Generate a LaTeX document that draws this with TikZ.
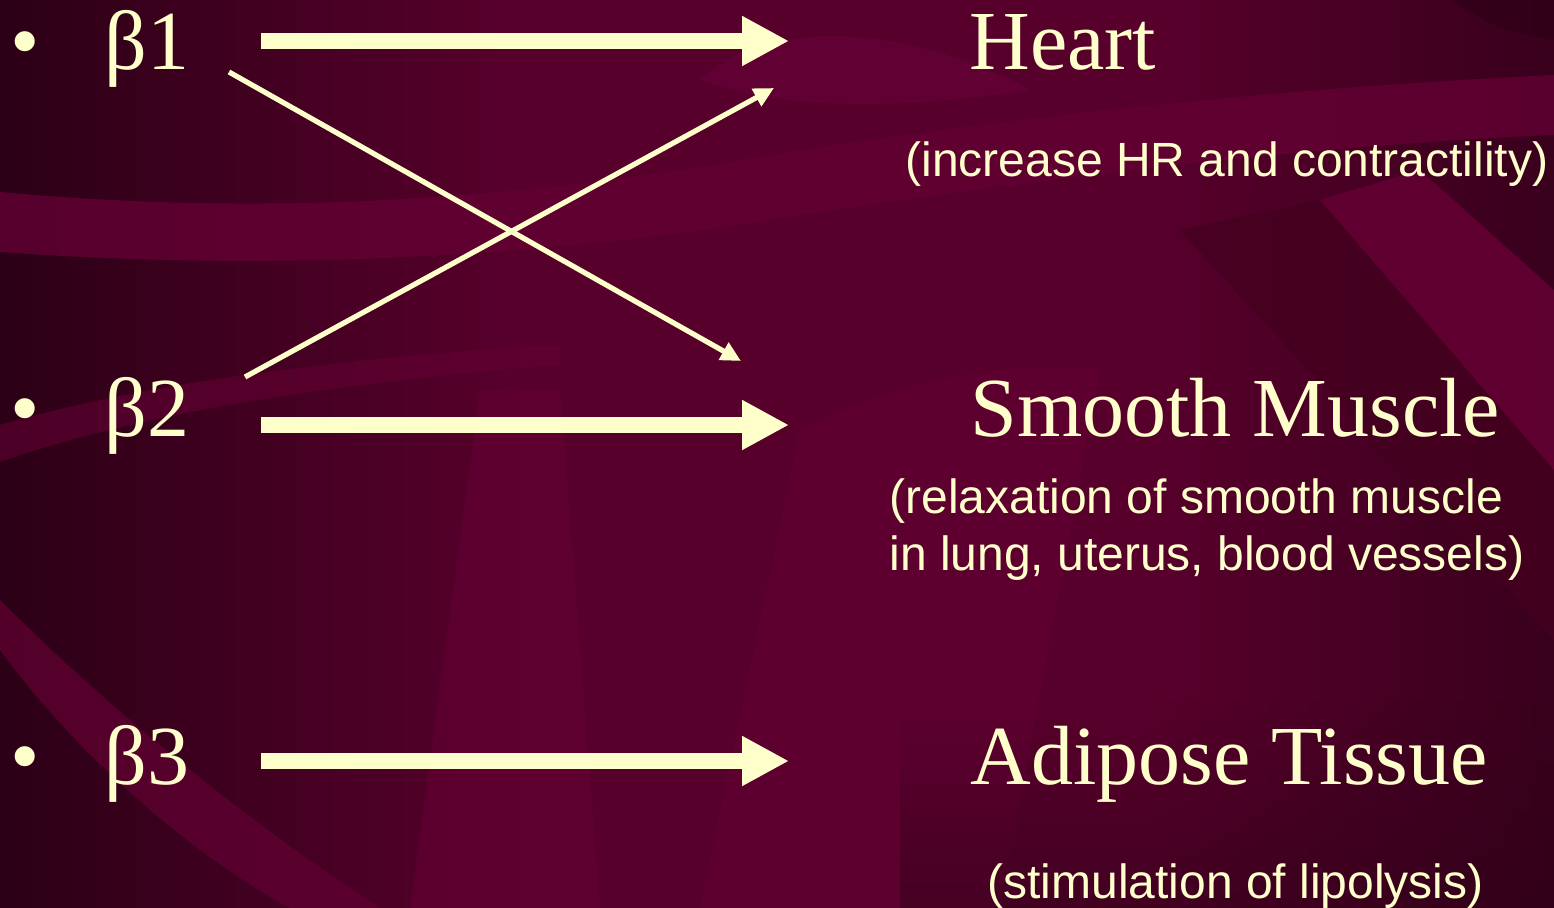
\documentclass[tikz,border=0pt]{standalone}
\usepackage{fontspec}
\setmainfont{Liberation Serif}
\setsansfont{Liberation Sans}
\usetikzlibrary{arrows.meta,fadings}

\definecolor{bgmid}{HTML}{58002C}
\definecolor{bgdark}{HTML}{2C0016}
\definecolor{bglight}{HTML}{630033}
\definecolor{bgdeep}{HTML}{44001F}
\definecolor{ink}{HTML}{FFFFCC}

\tikzset{
  bullet/.style={anchor=base west,inner sep=0pt,text=ink,font=\fontsize{42pt}{42pt}\selectfont},
  receptor/.style={anchor=base west,inner sep=0pt,text=ink,font=\fontsize{42pt}{42pt}\selectfont},
  organ/.style={anchor=base west,inner sep=0pt,text=ink,font=\fontsize{42pt}{42pt}\selectfont},
  effect/.style={anchor=base west,inner sep=0pt,text=ink,align=left,
    font=\sffamily\fontsize{24pt}{28.5pt}\selectfont},
  bigarrow/.style={draw=ink,line width=8pt,
    -{Triangle[length=23.5pt,width=23.5pt]}},
  thinarrow/.style={draw=ink,line width=2.6pt,
    -{Triangle[length=10pt,width=9.5pt]}},
}

\begin{document}
\begin{tikzpicture}[x=0.5pt,y=-0.5pt]
\useasboundingbox (0,0) rectangle (1554,908);

% ---- background ----
\fill[bgmid] (0,0) rectangle (1554,908);
\fill[bgdark,path fading=east] (0,0) rectangle (520,908);
\fill[bgdark,path fading=west,opacity=0.7] (1150,0) rectangle (1554,908);

% upper swoosh
\fill[bglight,opacity=0.8] (0,192) .. controls (250,215) and (500,205) .. (800,150)
  .. controls (1100,105) and (1350,85) .. (1554,75)
  -- (1554,135) .. controls (1300,145) and (1000,185) .. (800,215)
  .. controls (520,262) and (250,270) .. (0,252) -- cycle;
% light lobe under the top arrow head
\fill[bglight,opacity=0.9] (700,80) .. controls (760,20) and (900,20) .. (1030,90)
  .. controls (900,110) and (780,110) .. (700,80) -- cycle;
% band behind beta 2
\fill[bglight,opacity=0.6] (0,425) .. controls (120,390) and (300,360) .. (560,345)
  -- (560,365) .. controls (300,385) and (120,420) .. (0,462) -- cycle;
% lower left curve
\fill[bglight,opacity=0.7] (0,650) .. controls (80,760) and (200,860) .. (290,908)
  -- (380,908) .. controls (260,830) and (120,720) .. (0,600) -- cycle;
% middle lower panels
\fill[bglight,opacity=0.6] (480,390) -- (560,390) -- (600,908) -- (410,908) -- cycle;
\fill[bglight,opacity=0.55] (800,430) .. controls (900,380) and (1000,360) .. (1100,370)
  -- (1000,908) -- (700,908) -- cycle;
% right diagonal bands
\fill[bgdeep,opacity=0.8] (1180,230) -- (1320,200) -- (1554,470) -- (1554,640) -- cycle;
\fill[bglight,opacity=0.9] (1320,200) -- (1420,170) -- (1554,290) -- (1554,470) -- cycle;
\fill[bgdark,opacity=0.6] (1450,0) .. controls (1500,30) .. (1554,40) -- (1554,0) -- cycle;
\fill[bgdark,path fading=north,opacity=0.5] (900,700) rectangle (1554,908);

% ---- receptors ----
\node[bullet] (d1) at (10,70) {•};
\node[bullet] (d2) at (10,437) {•};
\node[bullet] (d3) at (10,785) {•};
\node[receptor] (b1) at (104,70) {β1};
\node[receptor] (b2) at (104,437) {β2};
\node[receptor] (b3) at (104,785) {β3};

% ---- targets ----
\node[organ] (heart) at (969,70) {Heart};
\node[organ] (smooth) at (970,437) {Smooth Muscle};
\node[organ] (adipose) at (970,785) {Adipose Tissue};
\node[effect] (eheart) at (905,177) {(increase HR and contractility)};
\node[effect] (esmooth) at (889,571) {(relaxation of smooth muscle\\in lung, uterus, blood vessels)};
\node[effect] (eadipose) at (987,899) {(stimulation of lipolysis)};

% ---- connector ends ----
\coordinate (s1) at (261,41);
\coordinate (t1) at (789,41);
\coordinate (s2) at (261,425);
\coordinate (t2) at (789,425);
\coordinate (s3) at (261,761);
\coordinate (t3) at (789,761);
\coordinate (x1) at (229,72);
\coordinate (y1) at (741,361);
\coordinate (x2) at (245,377);
\coordinate (y2) at (774,88);

\draw[bigarrow] (s1) -- (t1);
\draw[bigarrow] (s2) -- (t2);
\draw[bigarrow] (s3) -- (t3);
\draw[thinarrow] (x1) -- (y1);
\draw[thinarrow] (x2) -- (y2);
\end{tikzpicture}
\end{document}
